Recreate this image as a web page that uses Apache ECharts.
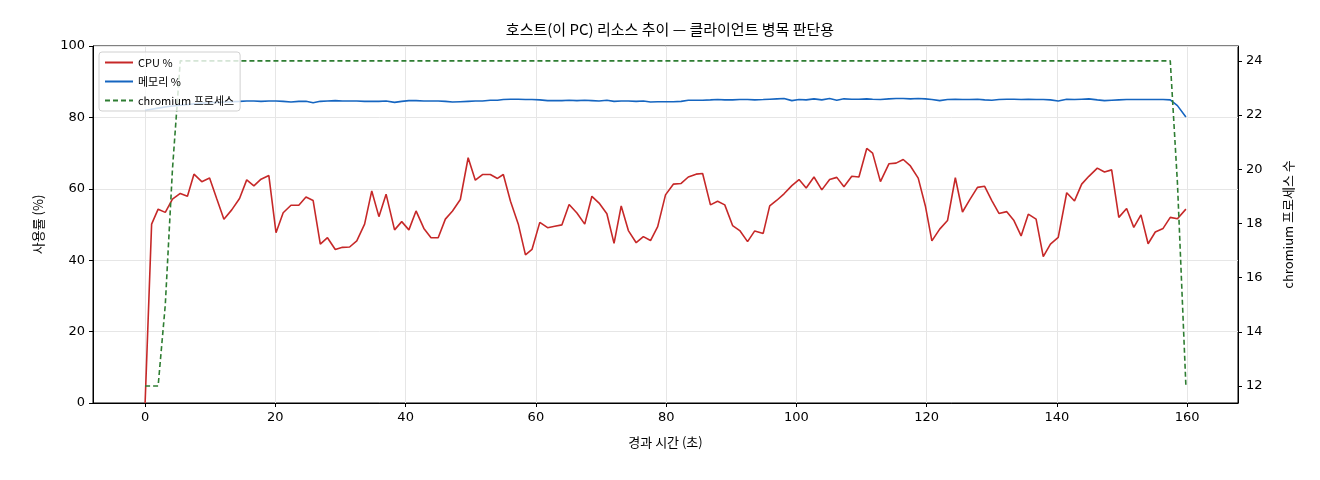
<!DOCTYPE html>
<html><head><meta charset="utf-8">
<script src="https://cdn.jsdelivr.net/npm/echarts@6/dist/echarts.min.js"></script>
<style>html,body{margin:0;padding:0;background:#fff}#c{width:1320px;height:480px}</style>
</head><body><div id="c"></div>
<script>
const times = [
0.0,1.0,2.0,3.1,4.2,5.4,6.5,7.5,8.7,9.9,
11.0,12.1,13.3,14.5,15.6,16.7,17.8,19.0,20.1,21.2,
22.4,23.6,24.7,25.8,26.9,28.0,29.2,30.3,31.4,32.5,
33.7,34.8,35.9,37.0,38.3,39.4,40.5,41.6,42.8,43.9,
45.0,46.1,47.2,48.4,49.6,50.7,51.8,53.0,54.1,55.0,
56.1,57.3,58.4,59.4,60.6,61.8,62.9,64.0,65.1,66.3,
67.5,68.6,69.7,70.9,72.0,73.1,74.2,75.4,76.5,77.6,
78.7,79.9,81.1,82.3,83.4,84.6,85.6,86.8,87.9,89.0,
90.2,91.3,92.5,93.6,94.9,95.9,97.0,98.1,99.3,100.4,
101.5,102.7,103.9,105.1,106.2,107.3,108.5,109.6,110.8,111.7,
112.9,114.2,115.3,116.4,117.5,118.7,119.8,120.8,122.0,123.2,
124.4,125.5,126.6,127.8,128.9,130.0,131.1,132.3,133.4,134.5,
135.6,136.8,137.9,139.0,140.2,141.5,142.7,143.8,144.9,146.2,
147.3,148.4,149.5,150.7,151.8,152.9,154.0,155.1,156.3,157.4,
158.5,159.8];
const cpu = [
0,50.1,54.3,53.4,57.1,58.7,57.9,64.1,62.0,63.0,
57.2,51.5,54.1,57.3,62.5,60.8,62.7,63.7,47.7,53.3,
55.4,55.4,57.7,56.7,44.5,46.3,43.0,43.6,43.7,45.4,
50.1,59.4,52.2,58.5,48.5,50.8,48.5,53.8,48.9,46.3,
46.3,51.5,53.8,57.0,68.7,62.4,64.0,64.0,62.9,64.0,
56.5,50.1,41.5,43.0,50.6,49.1,49.5,49.9,55.6,53.2,
50.1,57.9,56.0,53.0,44.7,55.2,48.3,44.9,46.6,45.5,
49.4,58.3,61.3,61.5,63.3,64.1,64.3,55.5,56.5,55.5,
49.7,48.3,45.2,48.2,47.5,55.2,56.8,58.6,60.9,62.6,
60.2,63.3,59.7,62.6,63.2,60.6,63.5,63.3,71.3,70.0,
62.0,67.0,67.2,68.2,66.4,63.0,55.2,45.4,48.7,51.1,
63.1,53.5,56.9,60.4,60.7,56.7,53.1,53.6,51.1,46.8,
52.9,51.5,41.0,44.5,46.4,58.9,56.6,61.3,63.5,65.8,
64.7,65.3,52.0,54.5,49.2,52.7,44.6,47.9,48.9,52.0,
51.6,54.3];
const mem = [
82.0,82.3,82.6,82.9,83.2,83.4,83.6,83.8,84.0,84.1,
84.2,84.3,84.4,84.5,84.6,84.6,84.5,84.6,84.6,84.5,
84.3,84.5,84.5,84.1,84.5,84.6,84.7,84.6,84.6,84.6,
84.5,84.5,84.5,84.6,84.2,84.5,84.7,84.7,84.6,84.6,
84.6,84.5,84.3,84.4,84.5,84.6,84.6,84.8,84.8,85.0,
85.1,85.1,85.0,85.0,84.9,84.7,84.7,84.7,84.8,84.7,
84.8,84.7,84.6,84.8,84.5,84.6,84.6,84.5,84.6,84.3,
84.4,84.4,84.4,84.5,84.8,84.8,84.8,84.9,85.0,84.9,
84.9,85.0,85.0,84.9,85.0,85.1,85.2,85.3,84.7,85.0,
84.9,85.2,84.9,85.3,84.8,85.2,85.1,85.1,85.2,85.1,
85.0,85.2,85.3,85.3,85.2,85.3,85.2,85.0,84.7,85.0,
85.1,85.0,85.0,85.1,84.9,84.8,85.0,85.1,85.1,85.0,
85.1,85.0,85.0,84.9,84.6,85.1,85.0,85.1,85.2,84.9,
84.7,84.8,84.9,85.0,85.0,85.0,85.0,85.0,85.0,84.9,
83.3,80.1];
const proc = [
12,12,12,15,20,24,24,24,24,24,
24,24,24,24,24,24,24,24,24,24,
24,24,24,24,24,24,24,24,24,24,
24,24,24,24,24,24,24,24,24,24,
24,24,24,24,24,24,24,24,24,24,
24,24,24,24,24,24,24,24,24,24,
24,24,24,24,24,24,24,24,24,24,
24,24,24,24,24,24,24,24,24,24,
24,24,24,24,24,24,24,24,24,24,
24,24,24,24,24,24,24,24,24,24,
24,24,24,24,24,24,24,24,24,24,
24,24,24,24,24,24,24,24,24,24,
24,24,24,24,24,24,24,24,24,24,
24,24,24,24,24,24,24,24,24,24,
19.5,12];
const xTicks = [0,20,40,60,80,100,120,140,160];
const yRightTicks = [12,14,16,18,20,22,24];
const pairs = a => times.map((t,i)=>[t,a[i]]);
const F = '"DejaVu Sans","Noto Sans CJK KR",sans-serif';
const KF = '"Noto Sans CJK KR","DejaVu Sans",sans-serif';
const chart = echarts.init(document.getElementById('c'));
chart.setOption({
  animation:false,
  title:{text:'호스트(이 PC) 리소스 추이 — 클라이언트 병목 판단용',left:665,top:17,textAlign:'center',
    textStyle:{fontFamily:KF,fontSize:15,fontWeight:'normal',color:'#000'}},
  grid:{left:93,right:82,top:46,bottom:77,show:true,borderColor:'#000',borderWidth:1,backgroundColor:'transparent'},
  legend:{orient:'vertical',left:99,top:52,itemWidth:28,itemHeight:8,itemGap:8,
    padding:[5,6,5,5],borderColor:'#d0d0d0',borderWidth:1,borderRadius:3,backgroundColor:'rgba(255,255,255,0.8)',
    itemStyle:{opacity:0},
    textStyle:{fontFamily:KF,fontSize:11,color:'#000'},
    data:['CPU %','메모리 %','chromium 프로세스']},
  xAxis:{type:'value',min:-8,max:167.8,name:'경과 시간 (초)',nameLocation:'middle',nameGap:33,
    nameTextStyle:{fontFamily:KF,fontSize:13,color:'#000'},
    axisLine:{onZero:false,lineStyle:{color:'#000'}},
    axisTick:{customValues:xTicks,length:4,lineStyle:{color:'#000'}},
    axisLabel:{customValues:xTicks,fontFamily:F,fontSize:13,color:'#000',margin:8},
    splitLine:{show:true,lineStyle:{color:'#e6e6e6'}}},
  yAxis:[
    {type:'value',min:0,max:100,interval:20,name:'사용률 (%)',nameLocation:'middle',nameGap:48,
     nameTextStyle:{fontFamily:KF,fontSize:13,color:'#000'},
     axisLine:{show:true,onZero:false,lineStyle:{color:'#000'}},axisTick:{show:true,length:4,lineStyle:{color:'#000'}},
     axisLabel:{fontFamily:F,fontSize:13,color:'#000'},
     splitLine:{show:true,lineStyle:{color:'#e6e6e6'}}},
    {type:'value',min:11.37,max:24.55,position:'right',name:'chromium 프로세스 수',nameLocation:'middle',nameGap:44,
     nameTextStyle:{fontFamily:KF,fontSize:13,color:'#000'},
     axisLine:{show:true,onZero:false,lineStyle:{color:'#000'}},
     axisTick:{show:true,customValues:yRightTicks,length:4,lineStyle:{color:'#000'}},
     axisLabel:{customValues:yRightTicks,fontFamily:F,fontSize:13,color:'#000'},
     splitLine:{show:false}}
  ],
  series:[
    {name:'CPU %',type:'line',data:pairs(cpu),symbol:'none',lineStyle:{color:'#c62828',width:1.6},itemStyle:{color:'#c62828'}},
    {name:'메모리 %',type:'line',data:pairs(mem),symbol:'none',lineStyle:{color:'#1565c0',width:1.6},itemStyle:{color:'#1565c0'}},
    {name:'chromium 프로세스',type:'line',yAxisIndex:1,data:pairs(proc),symbol:'none',
     lineStyle:{color:'#2e7d32',width:1.6,type:[5,3]},itemStyle:{color:'#2e7d32'}}
  ]
});
</script></body></html>
